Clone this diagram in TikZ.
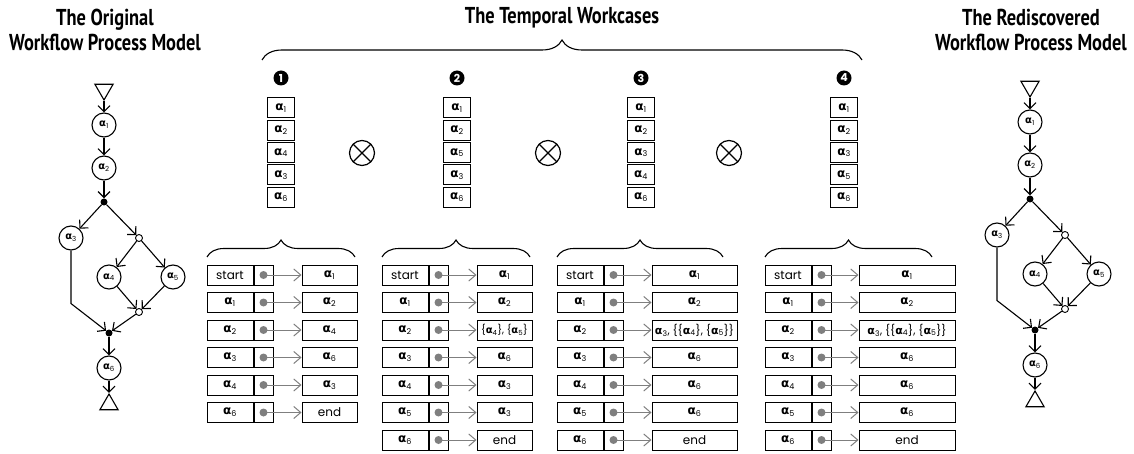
\documentclass[tikz,border=0pt]{standalone}
\usepackage{fontspec}
\usepackage{tikz}
\usetikzlibrary{arrows.meta,positioning,shapes.geometric,decorations.pathreplacing}
\setmainfont{Poppins}
\newfontfamily\titlefont[FakeStretch=0.8]{PT Sans}
\newfontfamily\greekfont{DejaVu Sans}
\definecolor{ptrgray}{HTML}{7F7F7F}
\newcommand{\act}[1]{{\greekfont\bfseries α}\textsubscript{#1}}
\tikzset{
  flow/.style={-{Straight Barb[length=6pt,width=12pt]}, line width=1.1pt},
  ptr/.style={-{Straight Barb[length=7pt,width=12pt]}, line width=1pt, draw=ptrgray},
  wfact/.style={circle, draw, line width=1.1pt, minimum size=24pt, inner sep=0pt,
                font=\fontsize{10}{10}\selectfont},
  andjoin/.style={circle, fill=black, minimum size=7pt, inner sep=0pt},
  orjoin/.style={circle, draw, fill=white, line width=0.9pt, minimum size=7pt, inner sep=0pt},
  wfterm/.style={regular polygon, regular polygon sides=3, draw, line width=1.1pt,
                 minimum size=21pt, inner sep=0pt},
  stackbox/.style={rectangle, draw, line width=1pt, minimum width=27pt, minimum height=20pt,
                   inner sep=0pt, font=\fontsize{12}{12}\selectfont},
  casenum/.style={circle, fill=black, text=white, minimum size=15pt, inner sep=0pt,
                  font=\fontsize{11}{11}\selectfont\bfseries},
  otimesc/.style={circle, draw, line width=1.2pt, minimum size=25pt,
                  path picture={\draw[line width=1.2pt]
                    (path picture bounding box.north west) -- (path picture bounding box.south east)
                    (path picture bounding box.north east) -- (path picture bounding box.south west);}},
  lcell/.style={rectangle, draw, line width=1pt, minimum width=46pt, minimum height=20pt,
                inner sep=0pt, font=\fontsize{12}{12}\selectfont},
  dcell/.style={rectangle, draw, line width=1pt, minimum width=19pt, minimum height=20pt, inner sep=0pt},
  tcell/.style={rectangle, draw, line width=1pt, minimum width=#1, minimum height=20pt,
                inner sep=0pt, font=\fontsize{12}{12}\selectfont},
  brc/.style={decorate, decoration={brace, amplitude=#1}, line width=1.1pt},
  ttl/.style={align=center, font=\titlefont\bfseries\fontsize{23}{25}\selectfont},
}
\begin{document}
\begin{tikzpicture}[x=1pt, y=-1pt, node distance=28pt]
  \useasboundingbox (0,0) rectangle (1134,454);

  % titles
  \node[ttl] (torig) at (105,30) {The Original\\Workflow Process Model};
  \node[ttl] (tcase) at (562,18) {The Temporal Workcases};
  \node[ttl] (tredi) at (1031,30) {The Rediscovered\\Workflow Process Model};
  \draw[brc=20pt] (262,60) -- (862,60);

  % original and rediscovered models
  \foreach \p/\dx/\dy in {o/0/0, r/926/-3}{
    \begin{scope}[shift={(\dx,\dy)}]
      \node[wfterm, shape border rotate=180] (\p-s) at (104,89.5) {};
      \node[wfact] (\p-a1) at (104,125) {\act1};
      \node[wfact] (\p-a2) at (104,168) {\act2};
      \node[andjoin] (\p-j1) at (104,202) {};
      \node[wfact] (\p-a3) at (71,238) {\act3};
      \node[orjoin] (\p-o1) at (139,238) {};
      \node[wfact] (\p-a4) at (109,277) {\act4};
      \node[wfact] (\p-a5) at (173,277) {\act5};
      \node[orjoin] (\p-o2) at (139,312) {};
      \node[andjoin] (\p-j2) at (109,333) {};
      \node[wfact] (\p-a6) at (109,368) {\act6};
      \node[wfterm] (\p-e) at (109,404.5) {};
      \draw[flow] (\p-s) -- (\p-a1);
      \draw[flow] (\p-a1) -- (\p-a2);
      \draw[flow] (\p-a2) -- (\p-j1);
      \draw[flow] (\p-j1) -- (\p-a3);
      \draw[flow] (\p-j1) -- (\p-o1);
      \draw[flow] (\p-o1) -- (\p-a4);
      \draw[flow] (\p-o1) -- (\p-a5);
      \draw[flow] (\p-a4) -- (\p-o2);
      \draw[flow] (\p-a5) -- (\p-o2);
      \draw[flow] (\p-a3.south) -- ++(0,53) -- (\p-j2);
      \draw[flow] (\p-o2) -- (\p-j2);
      \draw[flow] (\p-j2) -- (\p-a6);
      \draw[flow] (\p-a6) -- (\p-e);
    \end{scope}
  }

  % temporal workcases
  \foreach \x/\seq [count=\k] in {281/{1,2,4,3,6}, 457/{1,2,5,3,6}, 641/{1,2,3,4,6}, 844/{1,2,3,5,6}}{
    \node[casenum] (n\k) at (\x,78) {\k};
    \foreach \a [count=\i] in \seq
      \node[stackbox] (s\k-\i) at (\x,{108+22.3*(\i-1)}) {\act\a};
  }
  \node[otimesc] (ox1) at (362,153) {};
  \node[otimesc] (ox2) at (548,153) {};
  \node[otimesc] (ox3) at (729,153) {};

  % workcase 1
  \draw[brc=17pt] (207,257) -- (355,257);
  \foreach \l/\t [count=\i] in {start/\act1, \act1/\act2, \act2/\act4, \act3/\act6, \act4/\act3, \act6/end}{
    \node[lcell] (w1l\i) at (230,{275+27.5*(\i-1)}) {\l};
    \node[dcell, right=0pt of w1l\i] (w1d\i) {};
    \node[tcell=55pt, right=of w1d\i] (w1t\i) {\t};
    \fill[ptrgray] (w1d\i) circle (4pt);
    \draw[ptr] (w1d\i.center) -- (w1t\i);
  }

  % workcase 2
  \draw[brc=17pt] (382,257) -- (530,257);
  \foreach \l/\t [count=\i] in {start/\act1, \act1/\act2,
      \act2/{{\fontsize{10}{10}\selectfont\{\act4\}, \{\act5\}}},
      \act3/\act6, \act4/\act3, \act5/\act3, \act6/end}{
    \node[lcell] (w2l\i) at (405,{275+27.5*(\i-1)}) {\l};
    \node[dcell, right=0pt of w2l\i] (w2d\i) {};
    \node[tcell=55pt, right=of w2d\i] (w2t\i) {\t};
    \fill[ptrgray] (w2d\i) circle (4pt);
    \draw[ptr] (w2d\i.center) -- (w2t\i);
  }

  % workcase 3
  \draw[brc=17pt] (557,257) -- (723,257);
  \foreach \l/\t [count=\i] in {start/\act1, \act1/\act2,
      \act2/{{\fontsize{11}{11}\selectfont\act3, \{\{\act4\}, \{\act5\}\}}},
      \act3/\act6, \act4/\act6, \act5/\act6, \act6/end}{
    \node[lcell] (w3l\i) at (580,{275+27.5*(\i-1)}) {\l};
    \node[dcell, right=0pt of w3l\i] (w3d\i) {};
    \node[tcell=85pt, right=of w3d\i] (w3t\i) {\t};
    \fill[ptrgray] (w3d\i) circle (4pt);
    \draw[ptr] (w3d\i.center) -- (w3t\i);
  }

  % workcase 4
  \draw[brc=17pt] (765,257) -- (932,257);
  \foreach \l/\t [count=\i] in {start/\act1, \act1/\act2,
      \act2/{{\fontsize{11}{11}\selectfont\act3, \{\{\act4\}, \{\act5\}\}}},
      \act3/\act6, \act4/\act6, \act5/\act6, \act6/end}{
    \node[lcell] (w4l\i) at (788,{275+27.5*(\i-1)}) {\l};
    \node[dcell, right=0pt of w4l\i] (w4d\i) {};
    \node[tcell=96pt, right=27pt of w4d\i] (w4t\i) {\t};
    \fill[ptrgray] (w4d\i) circle (4pt);
    \draw[ptr] (w4d\i.center) -- (w4t\i);
  }
\end{tikzpicture}
\end{document}
